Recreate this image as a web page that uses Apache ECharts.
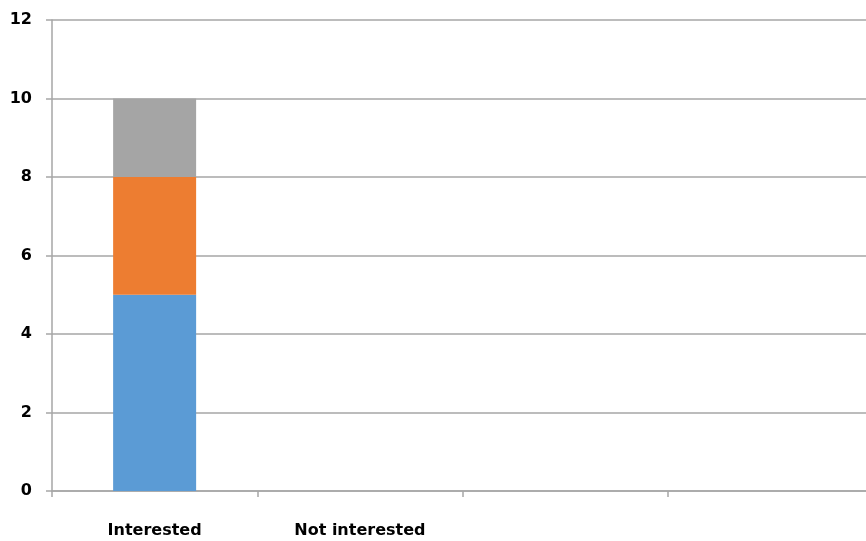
<!DOCTYPE html>
<html>
<head>
<meta charset="utf-8">
<script src="https://cdn.jsdelivr.net/npm/echarts@6/dist/echarts.min.js"></script>
<style>
  html, body { margin: 0; padding: 0; background: #fff; overflow: hidden; }
  /* 画布比窗口宽一点, 右侧最后一格被截掉 */
  #chart { width: 873px; height: 541px; }
</style>
</head>
<body>
<div id="chart"></div>
<script>
var categories = ['Interested', 'Not interested', '', '']
var series1 = [5, null, null, null]
var series2 = [3, null, null, null]
var series3 = [2, null, null, null]
var yTicks = { min: 0, max: 12, interval: 2 }

var myChart = echarts.init(document.getElementById('chart'))
var gridColor = '#A6A6A6'
var labelFont = {
  color: '#000',
  fontFamily: 'DejaVu Sans',
  fontWeight: 'bold',
  fontSize: 16
}

var option = {
  animation: false,
  grid: { left: 52, right: 0, top: 20, bottom: 50, containLabel: false },
  xAxis: {
    type: 'category',
    data: categories,
    axisLine: { lineStyle: { color: gridColor, width: 1.5 } },
    axisTick: { show: true, length: 6, lineStyle: { color: gridColor, width: 1.5 } },
    axisLabel: Object.assign({ margin: 32, interval: 0 }, labelFont),
    splitLine: { show: false }
  },
  yAxis: {
    type: 'value',
    min: yTicks.min,
    max: yTicks.max,
    interval: yTicks.interval,
    axisLine: { show: true, lineStyle: { color: gridColor, width: 1.5 } },
    axisTick: { show: true, length: 6, lineStyle: { color: gridColor, width: 1.5 } },
    axisLabel: Object.assign({ margin: 20 }, labelFont),
    splitLine: { show: true, lineStyle: { color: gridColor, width: 1.5 } }
  },
  series: [
    { name: 'S1', type: 'bar', stack: 'a', data: series1, barWidth: 83, itemStyle: { color: '#5B9BD5' } },
    { name: 'S2', type: 'bar', stack: 'a', data: series2, itemStyle: { color: '#ED7D31' } },
    { name: 'S3', type: 'bar', stack: 'a', data: series3, itemStyle: { color: '#A5A5A5' } }
  ]
}
myChart.setOption(option)
</script>
</body>
</html>
